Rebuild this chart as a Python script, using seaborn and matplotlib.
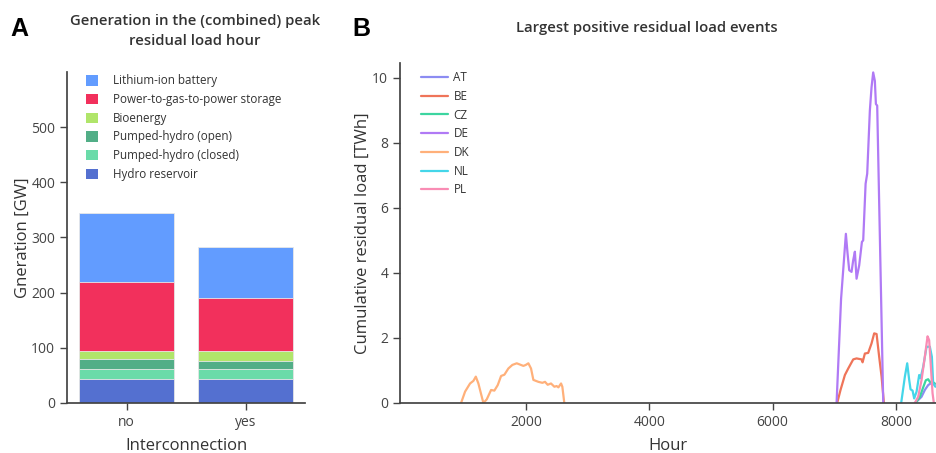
import numpy as np
import pandas as pd
import matplotlib
matplotlib.use('agg')
import matplotlib.pyplot as plt
from matplotlib.patches import Patch
from matplotlib.lines import Line2D
import seaborn as sns

# ---- panel A data: generation in peak residual load hour [GW]
interconnection = ['no', 'yes']
hydro_reservoir = [44, 43]
pumped_closed = [18, 19]
pumped_open = [17, 15]
bioenergy = [16, 18]
p2g_storage = [124, 96]
li_ion = [125, 92]

tech_names = ['Hydro reservoir', 'Pumped-hydro (closed)', 'Pumped-hydro (open)',
              'Bioenergy', 'Power-to-gas-to-power storage', 'Lithium-ion battery']
tech_colors = ['#5470d0', '#6adba9', '#52ae87', '#b0e56a', '#f2305c', '#629cff']

# ---- panel B data: cumulative residual load [TWh] per country
at_hour = [8307, 8361, 8415, 8469, 8523, 8577, 8631]
at_val = [0, 0.09, 0.19, 0.40, 0.55, 0.62, 0.58]

be_hour = [7047, 7101, 7172, 7226, 7307, 7361, 7442, 7459, 7496, 7550, 7604, 7647, 7686, 7728, 7767, 7805]
be_val = [0, 0.40, 0.86, 1.06, 1.34, 1.37, 1.34, 1.25, 1.52, 1.54, 1.83, 2.14, 2.12, 1.42, 0.81, 0]

cz_hour = [8335, 8388, 8442, 8485, 8523, 8550, 8594, 8631]
cz_val = [0.04, 0.19, 0.48, 0.70, 0.73, 0.65, 0.65, 0.60]

de_hour = [7037, 7110, 7188, 7215, 7242, 7280, 7307, 7334, 7361, 7404, 7448, 7469, 7508, 7534,
           7577, 7604, 7631, 7658, 7675, 7696, 7794]
de_val = [0, 3.2, 5.2, 4.6, 4.08, 4.03, 4.39, 4.65, 3.82, 4.23, 4.95, 5.0, 6.74, 7.05,
          8.99, 9.7, 10.16, 9.9, 9.19, 9.14, 0]

dk_hour = [945, 1010, 1091, 1145, 1184, 1226, 1307, 1361, 1432, 1485, 1540, 1594, 1648, 1712, 1777,
           1848, 1902, 1956, 1995, 2037, 2080, 2118, 2199, 2264, 2307, 2350, 2404, 2458, 2496,
           2524, 2567, 2588, 2620]
dk_val = [0, 0.35, 0.60, 0.68, 0.81, 0.60, 0.0, 0.11, 0.40, 0.38, 0.55, 0.83, 0.87, 1.06, 1.17,
          1.22, 1.18, 1.14, 1.17, 1.22, 1.06, 0.71, 0.65, 0.62, 0.65, 0.56, 0.60, 0.50, 0.52,
          0.48, 0.60, 0.50, 0]

nl_hour = [8085, 8145, 8183, 8215, 8237, 8270, 8296, 8335, 8377, 8399, 8442, 8497, 8550, 8583, 8604, 8640]
nl_val = [0, 0.81, 1.22, 0.71, 0.42, 0.38, 0.14, 0.35, 0.86, 0.76, 1.11, 1.73, 1.73, 1.42, 0.60, 0.5]

pl_hour = [8307, 8361, 8415, 8469, 8513, 8539, 8567, 8594, 8615]
pl_val = [0, 0.19, 0.70, 1.42, 2.05, 1.93, 1.11, 0.30, 0]

countries = ['AT', 'BE', 'CZ', 'DE', 'DK', 'NL', 'PL']
country_colors = ['#8c8cf2', '#ef7459', '#3cd5a0', '#b07af5', '#ffb07a', '#44d6e9', '#f98cb4']

sns.set_theme(style='ticks')
plt.rcParams['font.family'] = ['Open Sans', 'DejaVu Sans']
plt.rcParams['axes.edgecolor'] = '#444444'
plt.rcParams['xtick.color'] = '#444444'
plt.rcParams['ytick.color'] = '#444444'
plt.rcParams['text.color'] = '#333333'
plt.rcParams['axes.labelcolor'] = '#333333'

fig = plt.figure(figsize=(9.36, 4.53), dpi=100)
ax1 = fig.add_axes([0.0716, 0.1104, 0.2543, 0.7307])
ax2 = fig.add_axes([0.4274, 0.1104, 0.5726, 0.7505])

# ---- panel A: stacked bars (cumulative totals drawn from the top down)
stack = [hydro_reservoir, pumped_closed, pumped_open, bioenergy, p2g_storage, li_ion]
cum = np.cumsum(np.array(stack), axis=0)
for i in range(len(stack) - 1, -1, -1):
    df = pd.DataFrame({'Interconnection': interconnection, 'value': cum[i]})
    sns.barplot(data=df, x='Interconnection', y='value', color=tech_colors[i], saturation=1,
                width=0.8, edgecolor='#e8e8e8', linewidth=0.6, ax=ax1)
ax1.set_xlim(-0.5, 1.5)
ax1.set_ylim(0, 600)
ax1.set_yticks([0, 100, 200, 300, 400, 500])
ax1.set_ylabel('Gneration [GW]', fontsize=12, labelpad=0)
ax1.set_xlabel('Interconnection', fontsize=12, labelpad=6)
ax1.tick_params(labelsize=10, length=5, width=1)
sns.despine(ax=ax1)
handles = [Patch(facecolor=c, edgecolor='none') for c in tech_colors[::-1]]
ax1.legend(handles, tech_names[::-1], loc='upper left', bbox_to_anchor=(0.06, 1.007),
           frameon=False, fontsize=8.4, handlelength=1.0, handleheight=1.0,
           handletextpad=1.3, labelspacing=0.49, borderaxespad=0.0)

# ---- panel B: residual load events
series = {'AT': (at_hour, at_val), 'BE': (be_hour, be_val), 'CZ': (cz_hour, cz_val),
          'DE': (de_hour, de_val), 'DK': (dk_hour, dk_val), 'NL': (nl_hour, nl_val),
          'PL': (pl_hour, pl_val)}
rows = []
for c in countries:
    for h, v in zip(*series[c]):
        rows.append((c, h, v))
events = pd.DataFrame(rows, columns=['country', 'hour', 'value'])
palette = dict(zip(countries, country_colors))
sns.lineplot(data=events, x='hour', y='value', hue='country', palette=palette,
             estimator=None, sort=False, linewidth=1.6, legend=False, ax=ax2)
ax2.set_xlim(-45, 8650)
ax2.set_ylim(0, 10.45)
ax2.set_xticks([2000, 4000, 6000, 8000])
ax2.set_yticks([0, 2, 4, 6, 8, 10])
ax2.set_xlabel('Hour', fontsize=12, labelpad=6)
ax2.set_ylabel('Cumulative residual load [TWh]', fontsize=12, labelpad=1)
ax2.tick_params(labelsize=10, length=5, width=1)
sns.despine(ax=ax2)
lh = [Line2D([0], [0], color=c, lw=1.6) for c in country_colors]
ax2.legend(lh, countries, loc='upper left', bbox_to_anchor=(0.03, 0.99), frameon=False,
           fontsize=8.4, handlelength=2.3, handletextpad=0.5, labelspacing=0.49,
           borderaxespad=0.0)

# ---- titles and panel letters
fig.text(0.208, 0.932, 'Generation in the (combined) peak\nresidual load hour', ha='center',
         va='center', fontsize=10.7, fontweight='semibold', linespacing=1.6)
fig.text(0.691, 0.938, 'Largest positive residual load events', ha='center', va='center',
         fontsize=10.7, fontweight='semibold')
fig.text(0.011, 0.937, 'A', fontsize=18, fontweight='bold', family='Liberation Sans',
         color='black', va='center')
fig.text(0.376, 0.937, 'B', fontsize=18, fontweight='bold', family='Liberation Sans',
         color='black', va='center')

fig.savefig('out.png', dpi=100)
